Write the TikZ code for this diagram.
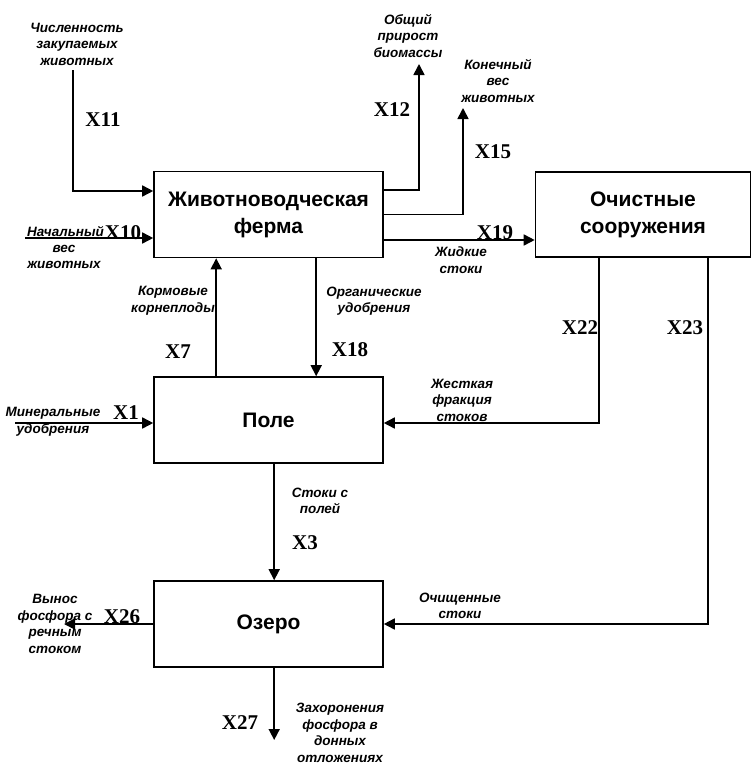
\documentclass[tikz,border=0pt]{standalone}
\usepackage{fontspec}
\setmainfont{Liberation Serif}
\setsansfont{Liberation Sans}
\usetikzlibrary{arrows.meta,positioning,calc}

\begin{document}
\begin{tikzpicture}[
  x=1pt, y=-1pt, >={Triangle[length=11pt,width=11pt]},
  blk/.style={draw, line width=1.6pt, minimum width=229pt, minimum height=86pt,
              align=center, inner sep=0pt,
              font=\sffamily\bfseries\fontsize{21}{27}\selectfont},
  flow/.style={->, draw, line width=1.6pt},
  xl/.style={font=\rmfamily\bfseries\fontsize{21}{22}\selectfont, inner sep=0pt},
  note/.style={font=\sffamily\bfseries\itshape\fontsize{13.5}{16.5}\selectfont,
               align=center, inner sep=0pt}
]
\useasboundingbox (0,0) rectangle (752,766);

% ---- blocks
\node[blk] (farm) at (268.5,214.5) {Животноводческая\\ ферма};
\node[blk, minimum width=215pt, minimum height=85pt] (ochist) at (643,214.5)
  {Очистные\\ сооружения};
\node[blk] (pole) at (268.5,420) {Поле};
\node[blk] (ozero) at (268.5,624) {Озеро};

% ---- free ends
\coordinate (c11) at (73,70);
\coordinate (c10) at (25,238);
\coordinate (c12) at (419,64);
\coordinate (c15) at (463,108);
\coordinate (c1) at (15,423);
\coordinate (c26) at (64,624);
\coordinate (c27) at (275,740);

% ---- edges
\draw[flow] (c11) |- ($(farm.west)+(0,-23.5)$);
\draw[flow] (c10) -- (c10 -| farm.west);
\draw[flow] ($(farm.east)+(0,-24.5)$) -| (c12);
\draw[flow] (farm.east) -| (c15);
\draw[flow] ($(farm.east)+(0,25.5)$) -- ($(ochist.west)+(0,25.5)$);
\draw[flow] ($(ochist.south west)+(64,0)$) |- ($(pole.east)+(0,3)$);
\draw[flow] ($(ochist.south west)+(173,0)$) |- (ozero.east);
\draw[flow] ($(pole.north west)+(63,0)$) coordinate (b7) -- (b7 |- farm.south);
\draw[flow] ($(farm.south west)+(163,0)$) coordinate (b18) -- (b18 |- pole.north);
\draw[flow] (c1) -- ($(pole.west)+(0,3)$);
\draw[flow] ($(pole.south west)+(121,0)$) coordinate (b3) -- (b3 |- ozero.north);
\draw[flow] (ozero.west) -- (c26);
\draw[flow] ($(ozero.south west)+(121,0)$) coordinate (b27) -- (b27 |- c27);

% ---- flow numbers
\node[xl] (x11) at (103,120) {X11};
\node[xl] (x10) at (123,233) {X10};
\node[xl] (x12) at (392,110) {X12};
\node[xl] (x15) at (493,152) {X15};
\node[xl] (x19) at (495,233) {X19};
\node[xl] (x22) at (580,328) {X22};
\node[xl] (x23) at (685,328) {X23};
\node[xl] (x7) at (178,352) {X7};
\node[xl] (x18) at (350,350) {X18};
\node[xl] (x1) at (126,413) {X1};
\node[xl] (x3) at (305,543) {X3};
\node[xl] (x26) at (122,617) {X26};
\node[xl] (x27) at (240,723) {X27};

% ---- flow names
\node[note] (n11) at (77,44) {Численность\\ закупаемых\\ животных};
\node[note, anchor=east] (n10a) at (104,232) {Начальный};
\node[note] (n10b) at (64,257) {вес\\ животных};
\node[note] (n12) at (408,36) {Общий\\ прирост\\ биомассы};
\node[note] (n15) at (498,81) {Конечный\\ вес\\ животных};
\node[note] (n19) at (461,260) {Жидкие\\ стоки};
\node[note, anchor=east] (n7) at (215,301) {Кормовые\\ корнеплоды};
\node[note] (n18) at (374,301) {Органические\\ удобрения};
\node[note] (n22) at (462,400) {Жесткая\\ фракция\\ стоков};
\node[note] (n1) at (53,422) {Минеральные\\ удобрения};
\node[note] (n3) at (320,501) {Стоки с\\ полей};
\node[note] (n23) at (460,606) {Очищенные\\ стоки};
\node[note] (n26) at (55,624) {Вынос\\ фосфора с\\ речным\\ стоком};
\node[note] (n27) at (340,733) {Захоронения\\ фосфора в\\ донных\\ отложениях};
\end{tikzpicture}
\end{document}
